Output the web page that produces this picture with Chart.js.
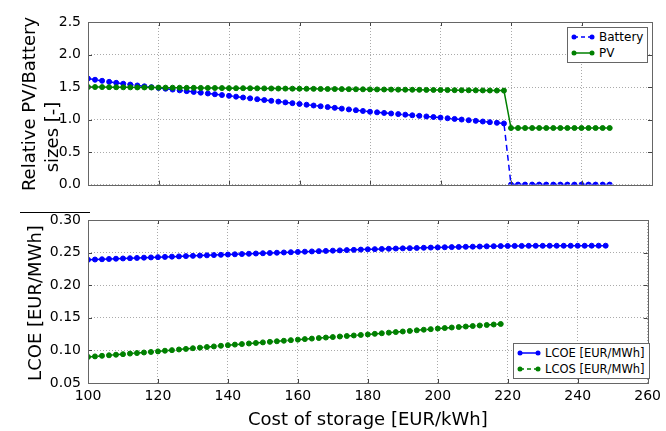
<!DOCTYPE html>
<html>
<head>
<meta charset="utf-8">
<script src="https://cdn.jsdelivr.net/npm/chart.js@4.4.0/dist/chart.umd.min.js"></script>
<style>
  body { margin: 0; background: #fff; font-family: "DejaVu Sans", sans-serif; }
  #wrap { position: relative; width: 666px; height: 431px; overflow: hidden; }
  .box { position: absolute; left: 0; width: 666px; }
  .ytitle { position: absolute; transform: translate(-50%, -50%) rotate(-90deg); white-space: nowrap; font-size: 18px; color: #000; }
  .legend { position: absolute; background: #fff; border: 1px solid #666; font-size: 12px; padding: 1px 4px 1px 3px; white-space: nowrap; }
  .legend div { display: flex; align-items: center; height: 16px; }
  .legend svg { margin-right: 4px; flex: none; }
</style>
</head>
<body>
<div id="wrap">
  <div class="box" style="top:0;height:200px"><canvas id="sizesChart"></canvas></div>
  <div class="box" style="top:200px;height:231px"><canvas id="costChart"></canvas></div>

  <div class="ytitle" style="left:28px;top:104px">Relative PV/Battery</div>
  <div class="ytitle" style="left:51px;top:137px">sizes [-]</div>
  <div class="ytitle" style="left:34px;top:303px">LCOE [EUR/MWh]</div>
  <div style="position:absolute;left:20px;top:212px;width:70px;height:1px;background:#000"></div>

  <div class="legend" style="left:567px;top:27px;width:72px">
    <div><svg width="24" height="10"><line x1="3" y1="5" x2="21" y2="5" stroke="#0000ff" stroke-width="1.5" stroke-dasharray="4,3"/><circle cx="3" cy="5" r="2.5" fill="#0000ff"/><circle cx="21" cy="5" r="2.5" fill="#0000ff"/></svg>Battery</div>
    <div><svg width="24" height="10"><line x1="3" y1="5" x2="21" y2="5" stroke="#008000" stroke-width="1.5"/><circle cx="3" cy="5" r="2.5" fill="#008000"/><circle cx="21" cy="5" r="2.5" fill="#008000"/></svg>PV</div>
  </div>
  <div class="legend" style="left:513px;top:343px;font-size:11.5px">
    <div><svg width="24" height="10"><line x1="3" y1="5" x2="21" y2="5" stroke="#0000ff" stroke-width="1.5"/><circle cx="3" cy="5" r="2.5" fill="#0000ff"/><circle cx="21" cy="5" r="2.5" fill="#0000ff"/></svg>LCOE [EUR/MWh]</div>
    <div><svg width="24" height="10"><line x1="3" y1="5" x2="21" y2="5" stroke="#008000" stroke-width="1.5" stroke-dasharray="4,3"/><circle cx="3" cy="5" r="2.5" fill="#008000"/><circle cx="21" cy="5" r="2.5" fill="#008000"/></svg>LCOS [EUR/MWh]</div>
  </div>
</div>

<script>
// Data
const costs = [
  100, 102, 104, 106, 108, 110, 112, 114, 116, 118,
  120, 122, 124, 126, 128, 130, 132, 134, 136, 138,
  140, 142, 144, 146, 148, 150, 152, 154, 156, 158,
  160, 162, 164, 166, 168, 170, 172, 174, 176, 178,
  180, 182, 184, 186, 188, 190, 192, 194, 196, 198,
  200, 202, 204, 206, 208, 210, 212, 214, 216, 218,
  220, 222, 224, 226, 228, 230, 232, 234, 236, 238,
  240, 242, 244, 246, 248
];

const battery = [
  1.630, 1.612, 1.596, 1.580, 1.565, 1.551, 1.538, 1.524, 1.511, 1.498,
  1.486, 1.474, 1.461, 1.449, 1.437, 1.425, 1.413, 1.401, 1.389, 1.377,
  1.365, 1.352, 1.339, 1.326, 1.313, 1.300, 1.288, 1.276, 1.264, 1.252,
  1.240, 1.228, 1.216, 1.204, 1.192, 1.180, 1.168, 1.156, 1.144, 1.132,
  1.120, 1.111, 1.102, 1.093, 1.084, 1.075, 1.066, 1.057, 1.048, 1.039,
  1.030, 1.020, 1.010, 1.000, 0.990, 0.980, 0.970, 0.960, 0.950, 0.940,
  0, 0, 0, 0, 0, 0, 0, 0, 0, 0,
  0, 0, 0, 0, 0
];

const pv = [
  1.500, 1.500, 1.499, 1.498, 1.497, 1.496, 1.495, 1.494, 1.494, 1.493,
  1.492, 1.491, 1.490, 1.489, 1.488, 1.488, 1.487, 1.486, 1.485, 1.484,
  1.483, 1.482, 1.482, 1.481, 1.480, 1.479, 1.478, 1.477, 1.476, 1.475,
  1.474, 1.473, 1.472, 1.471, 1.470, 1.469, 1.468, 1.467, 1.466, 1.465,
  1.464, 1.463, 1.462, 1.461, 1.460, 1.459, 1.458, 1.457, 1.456, 1.455,
  1.454, 1.453, 1.452, 1.451, 1.450, 1.449, 1.448, 1.447, 1.446, 1.445,
  0.870, 0.870, 0.870, 0.870, 0.870, 0.870, 0.870, 0.870, 0.870, 0.870,
  0.870, 0.870, 0.870, 0.870, 0.870
];

const lcoe = [
  0.2390, 0.2394, 0.2398, 0.2402, 0.2406, 0.2410, 0.2414, 0.2418, 0.2422, 0.2426,
  0.2430, 0.2434, 0.2438, 0.2442, 0.2446, 0.2450, 0.2454, 0.2458, 0.2462, 0.2466,
  0.2470, 0.2474, 0.2478, 0.2482, 0.2486, 0.2490, 0.2494, 0.2498, 0.2502, 0.2506,
  0.2510, 0.2514, 0.2518, 0.2522, 0.2526, 0.2530, 0.2534, 0.2538, 0.2542, 0.2546,
  0.2550, 0.2553, 0.2556, 0.2559, 0.2562, 0.2565, 0.2568, 0.2571, 0.2574, 0.2577,
  0.2580, 0.2582, 0.2584, 0.2587, 0.2589, 0.2591, 0.2593, 0.2596, 0.2598, 0.2600,
  0.2602, 0.2603, 0.2603, 0.2604, 0.2604, 0.2604, 0.2605, 0.2605, 0.2605, 0.2605,
  0.2605, 0.2605, 0.2606, 0.2606, 0.2606
];

// LCOS only exists while a battery is installed (up to 218)
const lcos = [
  0.0900, 0.0908, 0.0917, 0.0925, 0.0934, 0.0942, 0.0951, 0.0959, 0.0968, 0.0976,
  0.0985, 0.0995, 0.1004, 0.1014, 0.1023, 0.1033, 0.1042, 0.1052, 0.1061, 0.1071,
  0.1080, 0.1089, 0.1097, 0.1106, 0.1114, 0.1123, 0.1131, 0.1140, 0.1148, 0.1157,
  0.1165, 0.1173, 0.1181, 0.1189, 0.1197, 0.1205, 0.1213, 0.1221, 0.1229, 0.1237,
  0.1245, 0.1254, 0.1263, 0.1272, 0.1281, 0.1290, 0.1299, 0.1308, 0.1317, 0.1326,
  0.1335, 0.1343, 0.1351, 0.1358, 0.1366, 0.1374, 0.1382, 0.1390, 0.1397, 0.1405
];

const xTicks = [100, 120, 140, 160, 180, 200, 220, 240, 260];
const sizeTicks = [0.0, 0.5, 1.0, 1.5, 2.0, 2.5];
const costTicks = [0.05, 0.10, 0.15, 0.20, 0.25, 0.30];

const BLUE = "#0000ff";
const GREEN = "#008000";

function points(ys) {
  return ys.map((y, i) => ({ x: costs[i], y: y }));
}

// frame around plot area with inward tick marks (matplotlib look)
const framePlugin = {
  id: "frame",
  afterDraw(chart) {
    const c = chart.ctx;
    const a = chart.chartArea;
    const xs = chart.scales.x;
    const ys = chart.scales.y;
    c.save();
    c.strokeStyle = "#444";
    c.lineWidth = 1;
    c.beginPath();
    xs.ticks.forEach((t) => {
      const px = Math.round(xs.getPixelForValue(t.value)) + 0.5;
      c.moveTo(px, a.bottom); c.lineTo(px, a.bottom - 4);
      c.moveTo(px, a.top); c.lineTo(px, a.top + 4);
    });
    ys.ticks.forEach((t) => {
      const py = Math.round(ys.getPixelForValue(t.value)) + 0.5;
      c.moveTo(a.left, py); c.lineTo(a.left + 4, py);
      c.moveTo(a.right, py); c.lineTo(a.right - 4, py);
    });
    c.stroke();
    c.strokeStyle = "#666";
    c.strokeRect(Math.round(a.left) + 0.5, Math.round(a.top) + 0.5,
      Math.round(a.right - a.left), Math.round(a.bottom - a.top));
    c.restore();
  },
};

const gridStyle = { color: "#aaa", lineWidth: 1, drawTicks: false };
const borderStyle = { display: false, dash: [1, 2] };
const tickFont = { family: "DejaVu Sans", size: 14 };

Chart.defaults.color = "#000";

// Relative sizes chart
const sizesCtx = document.getElementById("sizesChart").getContext("2d");
const sizesChart = new Chart(sizesCtx, {
  type: "line",
  data: {
    datasets: [
      {
        label: "Battery",
        data: points(battery),
        borderColor: BLUE,
        backgroundColor: BLUE,
        borderWidth: 1.5,
        borderDash: [6, 4],
        pointRadius: 2.5,
        pointBorderWidth: 1,
        order: 1,
      },
      {
        label: "PV",
        data: points(pv),
        borderColor: GREEN,
        backgroundColor: GREEN,
        borderWidth: 1.5,
        pointRadius: 2.5,
        pointBorderWidth: 1,
        order: 0,
      },
    ],
  },
  options: {
    responsive: true,
    maintainAspectRatio: false,
    animation: false,
    layout: { padding: { top: 22, right: 14, left: 0, bottom: 0 } },
    plugins: { legend: { display: false }, tooltip: { enabled: false } },
    scales: {
      x: {
        type: "linear",
        min: 100,
        max: 260,
        afterBuildTicks: (s) => { s.ticks = xTicks.map((v) => ({ value: v })); },
        ticks: { display: false },
        grid: gridStyle,
        border: borderStyle,
        afterFit: (s) => { s.height = 14; },
      },
      y: {
        min: 0,
        max: 2.5,
        afterBuildTicks: (s) => { s.ticks = sizeTicks.map((v) => ({ value: v })); },
        ticks: { font: tickFont, padding: 7, callback: (v) => v.toFixed(1) },
        grid: gridStyle,
        border: borderStyle,
        afterFit: (s) => { s.width = 88; },
      },
    },
  },
  plugins: [framePlugin],
});

// LCOE / LCOS chart
const costCtx = document.getElementById("costChart").getContext("2d");
const costChart = new Chart(costCtx, {
  type: "line",
  data: {
    datasets: [
      {
        label: "LCOE [EUR/MWh]",
        data: points(lcoe),
        borderColor: BLUE,
        backgroundColor: BLUE,
        borderWidth: 1.5,
        pointRadius: 2.5,
        pointBorderWidth: 1,
        order: 1,
      },
      {
        label: "LCOS [EUR/MWh]",
        data: points(lcos),
        borderColor: GREEN,
        backgroundColor: GREEN,
        borderWidth: 1.5,
        borderDash: [6, 4],
        pointRadius: 2.5,
        pointBorderWidth: 1,
        order: 0,
      },
    ],
  },
  options: {
    responsive: true,
    maintainAspectRatio: false,
    animation: false,
    layout: { padding: { top: 20, right: 14, left: 0, bottom: 0 } },
    plugins: { legend: { display: false }, tooltip: { enabled: false } },
    scales: {
      x: {
        type: "linear",
        min: 100,
        max: 260,
        afterBuildTicks: (s) => { s.ticks = xTicks.map((v) => ({ value: v })); },
        ticks: { font: tickFont, padding: 5, maxRotation: 0 },
        grid: gridStyle,
        border: borderStyle,
        title: {
          display: true,
          text: "Cost of storage [EUR/kWh]",
          font: { family: "DejaVu Sans", size: 18 },
          padding: { top: 0, bottom: 0 },
        },
        afterFit: (s) => { s.height = 48; },
      },
      y: {
        min: 0.05,
        max: 0.3,
        afterBuildTicks: (s) => { s.ticks = costTicks.map((v) => ({ value: v })); },
        ticks: { font: tickFont, padding: 7, callback: (v) => v.toFixed(2) },
        grid: gridStyle,
        border: borderStyle,
        afterFit: (s) => { s.width = 88; },
      },
    },
  },
  plugins: [framePlugin],
});
</script>
</body>
</html>
